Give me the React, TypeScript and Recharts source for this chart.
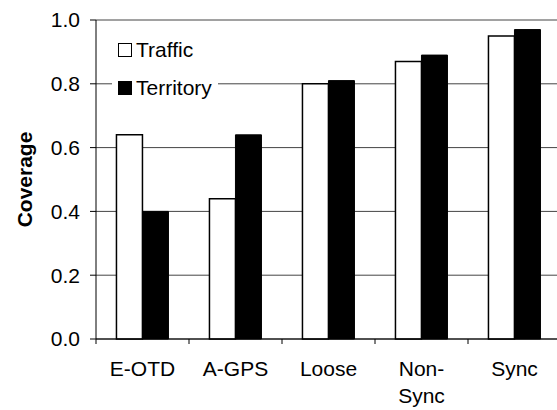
import {
  Bar,
  BarChart,
  CartesianGrid,
  Legend,
  XAxis,
  YAxis,
} from "recharts";

// Coverage per positioning method
const methods = ["E-OTD", "A-GPS", "Loose", "Non-\nSync", "Sync"];
const traffic = [0.64, 0.44, 0.8, 0.87, 0.95];
const territory = [0.4, 0.64, 0.81, 0.89, 0.97];
const seriesNames = ["Traffic", "Territory"];
const yTicks = [0, 0.2, 0.4, 0.6, 0.8, 1.0];

const data = methods.map((m, i) => ({
  method: m,
  traffic: traffic[i],
  territory: territory[i],
}));

const FONT = "Arial, 'Liberation Sans', sans-serif";

function MethodTick(props: any) {
  const { x, y, payload, width, visibleTicksCount } = props;
  const step =
    width && visibleTicksCount ? width / visibleTicksCount : (payload.offset || 46.5) * 2;
  const axisY = y - 7;
  const lines = String(payload.value).split("\n");
  return (
    <g>
      <line x1={x - step / 2} x2={x - step / 2} y1={axisY} y2={axisY + 5} stroke="#000" />
      <text x={x} y={y + 30} textAnchor="middle" fontSize={21} fontFamily={FONT} fill="#000">
        {lines.map((l, i) => (
          <tspan key={i} x={x} dy={i === 0 ? 0 : 27}>
            {l}
          </tspan>
        ))}
      </text>
    </g>
  );
}

function CoverageLabel(props: any) {
  const { viewBox } = props;
  const cx = viewBox.x + 24;
  const cy = viewBox.y + viewBox.height / 2;
  return (
    <text
      x={cx}
      y={cy}
      transform={`rotate(-90 ${cx} ${cy})`}
      textAnchor="middle"
      dominantBaseline="central"
      fontSize={21}
      fontWeight="bold"
      fontFamily={FONT}
      fill="#000"
    >
      Coverage
    </text>
  );
}

function LegendBox(props: any) {
  const items = [...(props.payload || [])].sort(
    (a: any, b: any) => seriesNames.indexOf(a.value) - seriesNames.indexOf(b.value)
  );
  return (
    <div style={{ background: "#fff", padding: "4px 6px", fontFamily: FONT, fontSize: 21 }}>
      {items.map((entry: any) => (
        <div
          key={entry.value}
          style={{ display: "flex", alignItems: "center", height: 38, lineHeight: "38px" }}
        >
          <span
            style={{
              display: "inline-block",
              width: 12,
              height: 12,
              border: "1.5px solid #000",
              background: entry.payload?.fill ?? entry.color,
              marginRight: 4,
            }}
          />
          <span style={{ color: "#000" }}>{entry.value}</span>
        </div>
      ))}
    </div>
  );
}

export default function App() {
  return (
    <div
      style={{
        position: "absolute",
        left: 0,
        top: 0,
        width: 557,
        height: 410,
        overflow: "hidden",
        background: "#fff",
      }}
    >
      <BarChart
        width={561}
        height={410}
        data={data}
        margin={{ top: 20, right: 0, left: 0, bottom: 0 }}
        barGap={0}
        barCategoryGap="22%"
      >
        <CartesianGrid vertical={false} stroke="#444" />
        <XAxis
          dataKey="method"
          height={71}
          interval={0}
          tickLine={false}
          tickSize={5}
          tickMargin={2}
          axisLine={{ stroke: "#000" }}
          tick={<MethodTick />}
        />
        <YAxis
          width={96}
          domain={[0, 1]}
          ticks={yTicks}
          tickFormatter={(v: number) => v.toFixed(1)}
          tickSize={6}
          tickMargin={10}
          tick={{ fill: "#000", fontSize: 21, fontFamily: FONT }}
          tickLine={{ stroke: "#000" }}
          axisLine={{ stroke: "#000" }}
          label={<CoverageLabel />}
        />
        <Legend
          layout="vertical"
          align="center"
          verticalAlign="middle"
          wrapperStyle={{ left: 112, top: 27, width: "auto" }}
          content={<LegendBox />}
        />
        <Bar
          dataKey="traffic"
          name="Traffic"
          fill="#fff"
          stroke="#000"
          strokeWidth={1.5}
          isAnimationActive={false}
        />
        <Bar
          dataKey="territory"
          name="Territory"
          fill="#000"
          stroke="#000"
          strokeWidth={1}
          isAnimationActive={false}
        />
      </BarChart>
    </div>
  );
}
